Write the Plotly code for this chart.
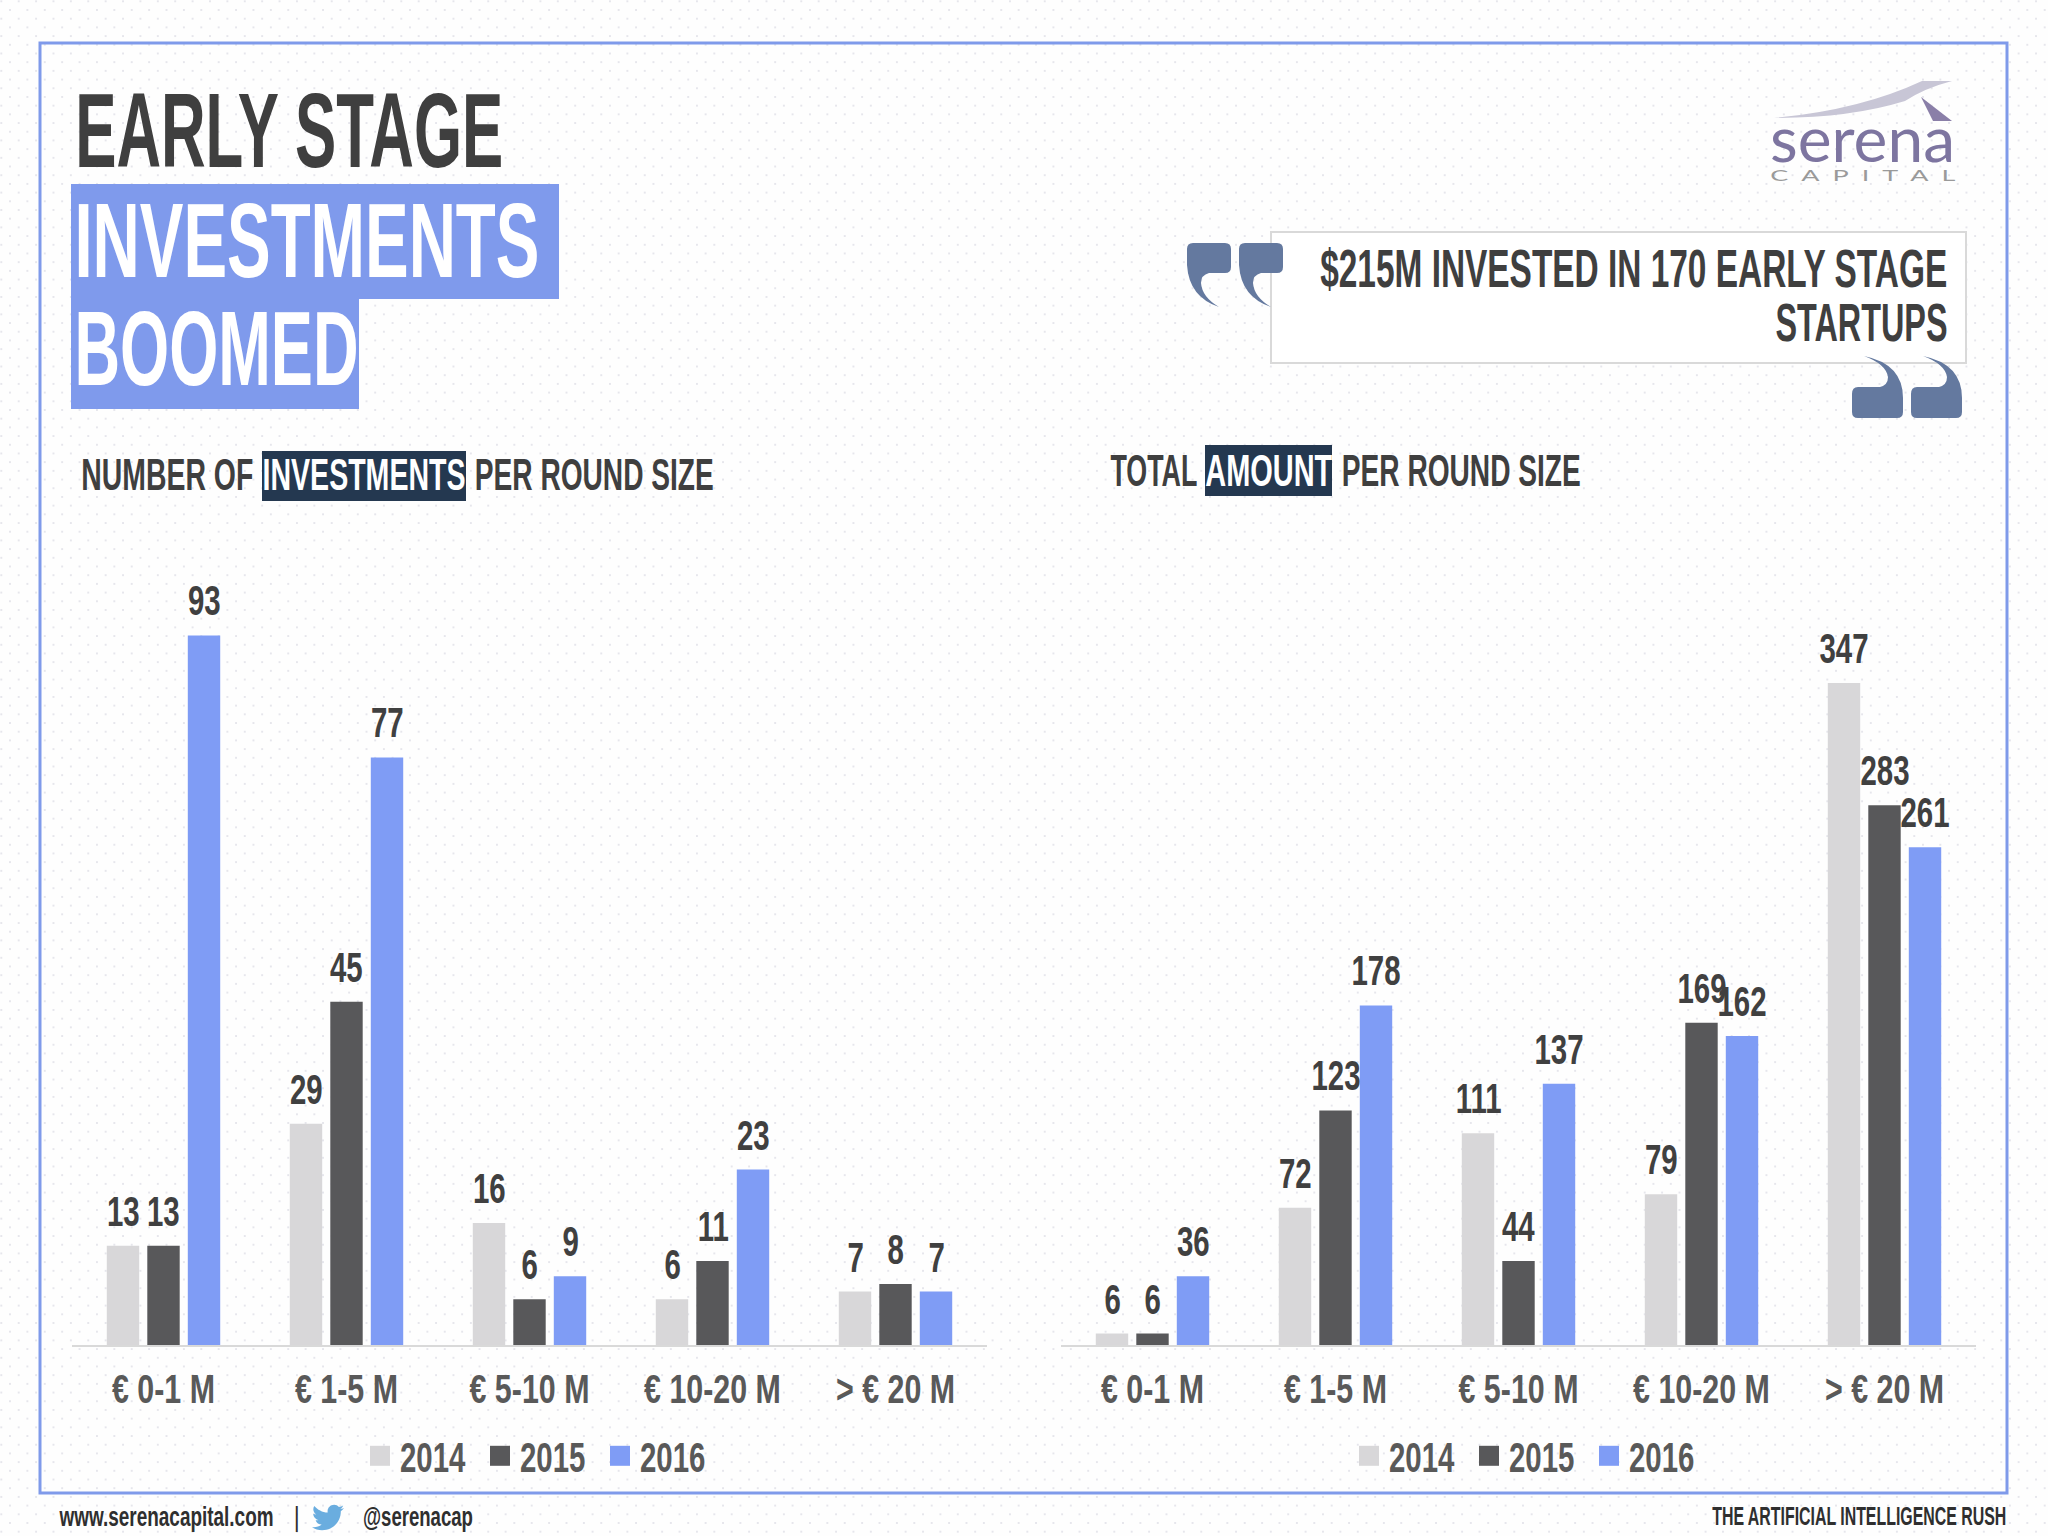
import json
import plotly.graph_objects as go

# chart data
round_sizes = ["€ 0-1 M", "€ 1-5 M", "€ 5-10 M", "€ 10-20 M", "> € 20 M"]
years = ["2014", "2015", "2016"]
count_2014 = [13, 29, 16, 6, 7]
count_2015 = [13, 45, 6, 11, 8]
count_2016 = [93, 77, 9, 23, 7]
amount_2014 = [6, 72, 111, 79, 347]
amount_2015 = [6, 123, 44, 169, 283]
amount_2016 = [36, 178, 137, 162, 261]

bar_colors = ["#D8D7D9", "#58585A", "#7F9CF5"]
DARK = "#3F3F3F"
FONT = "Liberation Sans"
W, H = 2048, 1536
BASE_Y, TOP_Y = 1345, 582

fig = go.Figure()

# invisible page axes (pixel coords) for all the decoration
fig.add_trace(go.Scatter(x=[0], y=[0], mode="markers", marker=dict(opacity=0), showlegend=False, hoverinfo="skip"))


def add_bars(series, axis_id, legend_id):
    for name, vals, color in zip(years, series, bar_colors):
        fig.add_trace(go.Bar(x=round_sizes, y=vals, name=name, marker=dict(color=color, line=dict(width=0)),
                             xaxis="x" + axis_id, yaxis="y" + axis_id, legend=legend_id))


def add_labels(series, axis_id):
    for i, vals in enumerate(series):
        for cat, v in zip(round_sizes, vals):
            fig.add_annotation(x=cat, y=v, xref="x" + axis_id, yref="y" + axis_id, text=str(v), showarrow=False,
                               xshift=(i - 1) * 40.5, yshift=9, yanchor="bottom",
                               font=dict(family=FONT, size=42, color="#404040", weight=700))


left_series = [count_2014, count_2015, count_2016]
right_series = [amount_2014, amount_2015, amount_2016]
add_bars(left_series, "2", "legend")
add_bars(right_series, "3", "legend2")
add_labels(left_series, "2")
add_labels(right_series, "3")

# text blocks: text, left, right, centre y, size, colour, font
text_blocks = [
    ("EARLY STAGE", 75, 503, 130, 106, DARK, FONT),
    ("INVESTMENTS", 74, 539, 240, 106, "#FFFFFF", FONT),
    ("BOOMED", 74, 358, 348, 106, "#FFFFFF", FONT),
    ("NUMBER OF", 81, 253, 474, 45, DARK, FONT),
    ("INVESTMENTS", 262, 465, 474, 45, "#FFFFFF", FONT),
    ("PER ROUND SIZE", 475, 714, 474, 45, DARK, FONT),
    ("TOTAL", 1110, 1197, 470, 45, DARK, FONT),
    ("AMOUNT", 1205, 1332, 470, 45, "#FFFFFF", FONT),
    ("PER ROUND SIZE", 1342, 1581, 470, 45, DARK, FONT),
    ("$215M INVESTED IN 170 EARLY STAGE", 1320, 1947, 268, 54, DARK, FONT),
    ("STARTUPS", 1775, 1947, 322, 54, DARK, FONT),
    ("serena", 1770, 1955, 138, 62, "#7D75A0", "Lato"),
    ("C  A  P  I  T  A  L", 1770, 1955, 174, 16, "#9A9A9A", "Lato"),
    ("www.serenacapital.com", 59, 273, 1517, 27, "#2F2F2F", FONT),
    ("|", 295, 299, 1517, 27, "#2F2F2F", FONT),
    ("@serenacap", 363, 473, 1517, 27, "#2F2F2F", FONT),
    ("THE ARTIFICIAL INTELLIGENCE RUSH", 1712, 2006, 1516, 25, "#2F2F2F", FONT),
]
fit_widths = {}
for txt, x0, x1, cy, size, color, family in text_blocks:
    fit_widths[f"{txt}|{size}"] = x1 - x0
    fig.add_annotation(x=(x0 + x1) / 2, y=cy, xref="x", yref="y", text=txt, showarrow=False,
                       xanchor="center", yanchor="middle",
                       font=dict(family=family, size=size, color=color, weight=700 if family == FONT else 400))


def rect(x0, y0, x1, y1, fill="rgba(0,0,0,0)", line=None, width=0):
    fig.add_shape(type="rect", xref="x", yref="y", x0=x0, y0=y0, x1=x1, y1=y1, fillcolor=fill,
                  line=dict(color=line, width=width), layer="above")


def path(d, fill):
    fig.add_shape(type="path", xref="x", yref="y", path=d, fillcolor=fill, line=dict(width=0), layer="above")


rect(40, 43, 2007, 1493, line="#7F9AEA", width=3)
rect(71, 184, 559, 299, fill="#7F9AEC")
rect(71, 299, 359, 409, fill="#7F9AEC")
rect(262, 451, 466, 501, fill="#243850")
rect(1205, 445, 1332, 496, fill="#243850")
rect(1271, 232, 1966, 363, fill="#FFFFFF", line="#D9D9D9", width=2)

QUOTE = "#64799F"


def open_quote(x, y):
    # rounded block with a tail curling to the lower right
    return (f"M{x+6},{y} L{x+38},{y} Q{x+44},{y} {x+44},{y+6} L{x+44},{y+24} Q{x+44},{y+30} {x+38},{y+30} "
            f"L{x+22},{y+30} Q{x+14},{y+32} {x+14},{y+40} Q{x+15},{y+54} {x+32},{y+64} "
            f"Q{x+2},{y+54} {x},{y+22} L{x},{y+6} Q{x},{y} {x+6},{y} Z")


def close_quote(x, y):
    return (f"M{x+45},{y+62} L{x+6},{y+62} Q{x},{y+62} {x},{y+56} L{x},{y+38} Q{x},{y+31} {x+6},{y+31} "
            f"L{x+28},{y+31} Q{x+36},{y+29} {x+36},{y+21} Q{x+34},{y+8} {x+12},{y} "
            f"Q{x+51},{y+8} {x+51},{y+42} L{x+51},{y+56} Q{x+51},{y+62} {x+45},{y+62} Z")


path(open_quote(1187, 243), QUOTE)
path(open_quote(1239, 243), QUOTE)
path(close_quote(1852, 356), QUOTE)
path(close_quote(1911, 356), QUOTE)

# logo swoosh and leg
path("M1774,118 Q1860,110 1922,81 L1952,81 Q1925,88 1905,101 Q1850,118 1774,118 Z", "#C8C6D6")
path("M1921,97 L1952,121 L1933,121 Z", "#8A7FA8")

# twitter bird, 24 unit icon scaled to the footer
bird = [(24, 4.6), (23.1, 5), (22.2, 5.2), (21.2, 5.4), (22.2, 4.8), (23, 3.8), (23.4, 2.6), (22.4, 3.2), (21.4, 3.6),
        (20.2, 3.8), (19.3, 2.8), (18, 2.2), (16.6, 2.2), (13.9, 2.2), (11.7, 4.4), (11.7, 7.1), (11.7, 7.5), (11.7, 7.9),
        (11.8, 8.2), (7.7, 8), (4.1, 6), (1.7, 3.1), (1.3, 3.8), (1, 4.7), (1, 5.6), (1, 7.3), (1.9, 8.8), (3.2, 9.7),
        (2.4, 9.7), (1.6, 9.5), (1, 9.1), (1, 11.5), (2.7, 13.5), (4.9, 14), (4.2, 14.2), (3.4, 14.2), (2.7, 14.1),
        (3.3, 16.1), (5.2, 17.5), (7.3, 17.5), (5.6, 18.8), (3.5, 19.6), (1.2, 19.6), (0.8, 19.6), (0.4, 19.6), (0, 19.5),
        (2.2, 20.9), (4.8, 21.8), (7.6, 21.8), (16.6, 21.8), (21.6, 14.3), (21.6, 7.8), (21.6, 7.6), (21.6, 7.4), (21.6, 7.2),
        (22.6, 6.5), (23.4, 5.6), (24, 4.6)]
pts = [f"{312 + px * 32 / 24:.1f},{1502 + py * 31 / 24:.1f}" for px, py in bird]
d = "M" + pts[0]
for i in range(1, len(pts), 3):
    d += " C" + " ".join(pts[i:i + 3])
path(d + " Z", "#6AADDF")


def legend_opts(left):
    return dict(orientation="h", x=left / W, y=(H - 1456) / H, xanchor="left", yanchor="middle",
                font=dict(family=FONT, size=42, color="#595959", weight=700), itemwidth=30,
                entrywidth=75, entrywidthmode="pixels", bgcolor="rgba(0,0,0,0)", traceorder="normal",
                itemclick=False, itemdoubleclick=False)


axis_style = dict(type="category", categoryorder="array", categoryarray=round_sizes, showgrid=False, showline=True,
                  linecolor="#D9D9D9", linewidth=2, ticks="", ticklabelstandoff=8, zeroline=False, fixedrange=True,
                  tickfont=dict(family=FONT, size=40, color="#595959", weight=700))
y_style = dict(visible=False, showgrid=False, zeroline=False, fixedrange=True,
               domain=[(H - BASE_Y) / H, (H - TOP_Y) / H])

fig.update_layout(
    width=W, height=H, margin=dict(l=0, r=0, t=0, b=0), autosize=False,
    paper_bgcolor="rgba(0,0,0,0)", plot_bgcolor="rgba(0,0,0,0)",
    barmode="group", bargap=0.336, bargroupgap=0.2,
    font=dict(family=FONT),
    xaxis=dict(range=[0, W], domain=[0, 1], visible=False, fixedrange=True),
    yaxis=dict(range=[H, 0], domain=[0, 1], visible=False, fixedrange=True),
    xaxis2=dict(axis_style, domain=[72 / W, 987 / W], anchor="y2"),
    yaxis2=dict(y_style, range=[0, 100], anchor="x2"),
    xaxis3=dict(axis_style, domain=[1061 / W, 1976 / W], anchor="y3"),
    yaxis3=dict(y_style, range=[0, 400], anchor="x3"),
    legend=legend_opts(360),
    legend2=legend_opts(1349),
    hovermode=False,
)

# dotted page background, and squeeze the font down to the poster's condensed widths
post_script = """
document.body.style.margin = '0';
var dot = 'radial-gradient(circle, #E6E6EC 1.1px, rgba(255,255,255,0) 1.5px)';
document.body.style.background = dot + ' 1.3px 1.3px/17.4px 17.4px, ' + dot + ' 10px 10px/17.4px 17.4px, #FEFEFE';
var gd = document.getElementById('{plot_id}');
var widths = %s;
function squeeze() {
    gd.querySelectorAll('svg text').forEach(function (t) {
        if (t.getAttribute('textLength')) return;
        var k = t.closest('.xaxislayer-above') ? 0.76 : 0.7;
        var w = widths[t.textContent + '|' + parseInt(t.style.fontSize)] || t.getComputedTextLength() * k;
        t.setAttribute('textLength', w);
        t.setAttribute('lengthAdjust', 'spacingAndGlyphs');
    });
    gd.querySelectorAll('.legendpoints path').forEach(function (p) {
        p.setAttribute('d', 'M10,10H-10V-10H10Z');
    });
}
squeeze();
gd.on('plotly_afterplot', squeeze);
""" % json.dumps(fit_widths)

fig.write_html("out.html", post_script=post_script, config=dict(displayModeBar=False))
